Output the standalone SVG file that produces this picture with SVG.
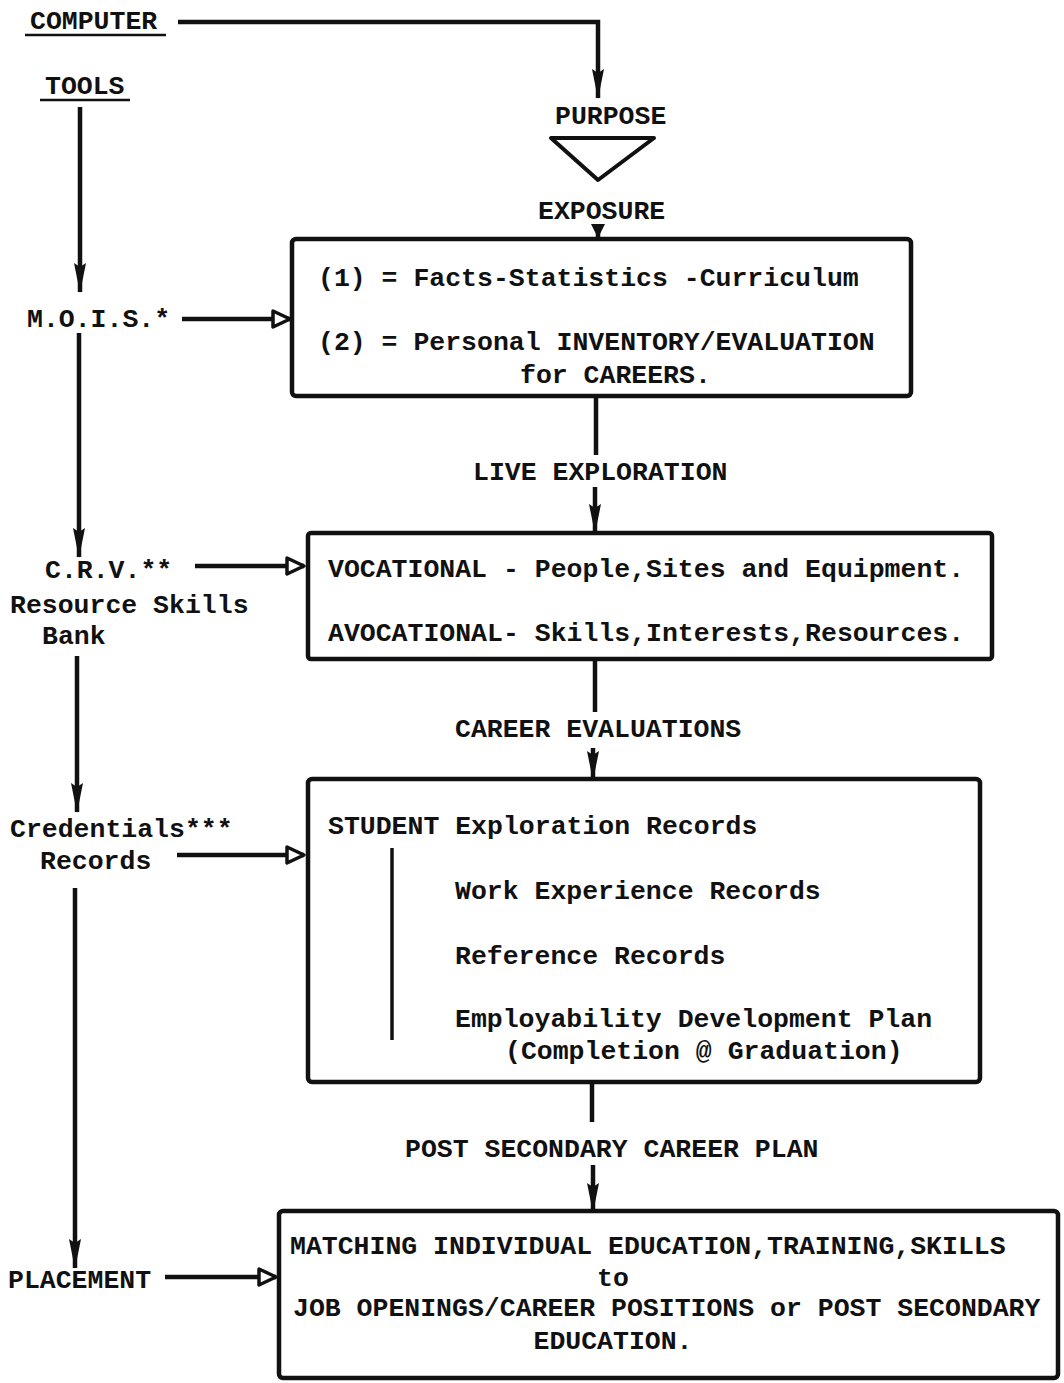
<svg xmlns="http://www.w3.org/2000/svg" width="1064" height="1383" viewBox="0 0 1064 1383">
<style>
text{font-family:"Liberation Mono","Courier New",monospace;font-size:26.5px;font-weight:bold;fill:#111}
.box{fill:none;stroke:#111;stroke-width:4.5}
.ln{fill:none;stroke:#111;stroke-width:4.5}
.mid{text-anchor:middle}
</style>
<defs>
<marker id="arrV" markerUnits="userSpaceOnUse" viewBox="0 0 30 14" markerWidth="30" markerHeight="14" refX="29" refY="7" orient="auto">
<path d="M0,1 L30,7 L0,13 L4,7 Z" fill="#111"/>
</marker>
<marker id="arrS" markerUnits="userSpaceOnUse" viewBox="0 0 14 14" markerWidth="14" markerHeight="14" refX="13" refY="7" orient="auto">
<path d="M0,0 L14,7 L0,14 Z" fill="#111"/>
</marker>
<marker id="arrH" markerUnits="userSpaceOnUse" viewBox="0 0 22 22" markerWidth="22" markerHeight="22" refX="19" refY="11" orient="auto">
<path d="M2,3 L19,11 L2,19 Z" fill="#fff" stroke="#111" stroke-width="3.5" stroke-linejoin="round"/>
</marker>
</defs>
<rect width="1064" height="1383" fill="#fff"/>

<g id="connectors">
<path class="ln" d="M178,22 H598 V98" marker-end="url(#arrV)"/>
<path class="ln" d="M80,107 V292" marker-end="url(#arrV)"/>
<path class="ln" d="M79,333 V557" marker-end="url(#arrV)"/>
<path class="ln" d="M77,656 V812" marker-end="url(#arrV)"/>
<path class="ln" d="M75,888 V1268" marker-end="url(#arrV)"/>
<path class="ln" d="M182,319 H290" marker-end="url(#arrH)"/>
<path class="ln" d="M195,566 H304" marker-end="url(#arrH)"/>
<path class="ln" d="M177,855 H304" marker-end="url(#arrH)"/>
<path class="ln" d="M165,1277 H276" marker-end="url(#arrH)"/>
<path class="ln" d="M598,225 V237" marker-end="url(#arrS)"/>
<path class="ln" d="M596,397 V455"/>
<path class="ln" d="M595,487 V533" marker-end="url(#arrV)"/>
<path class="ln" d="M595,660 V712"/>
<path class="ln" d="M593,748 V780" marker-end="url(#arrV)"/>
<path class="ln" d="M592,1082 V1122"/>
<path class="ln" d="M593,1165 V1212" marker-end="url(#arrV)"/>
</g>

<g id="computer">
<text x="30" y="29">COMPUTER</text>
<line x1="25" y1="35" x2="166" y2="35" stroke="#111" stroke-width="2.5"/>
</g>
<g id="tools">
<text x="45" y="94">TOOLS</text>
<line x1="40" y1="100" x2="130" y2="100" stroke="#111" stroke-width="2.5"/>
</g>
<g id="purpose">
<text x="555" y="124">PURPOSE</text>
<polygon points="551,138 654,138 598,180" fill="none" stroke="#111" stroke-width="4" stroke-linejoin="round"/>
</g>
<g id="exposure">
<text x="538" y="219">EXPOSURE</text>
</g>
<g id="mois"><text x="27" y="327">M.O.I.S.*</text></g>
<g id="crv">
<text x="45" y="578">C.R.V.**</text>
<text x="10" y="613">Resource Skills</text>
<text x="42" y="644">Bank</text>
</g>
<g id="credentials">
<text x="10" y="837">Credentials***</text>
<text x="40" y="869">Records</text>
</g>
<g id="placement"><text x="8" y="1288">PLACEMENT</text></g>

<g id="box1">
<rect class="box" x="292" y="239" width="619" height="157" rx="4"/>
<text x="318" y="286">(1) = Facts-Statistics -Curriculum</text>
<text x="318" y="350">(2) = Personal INVENTORY/EVALUATION</text>
<text x="520" y="383">for CAREERS.</text>
</g>
<g id="live"><text x="473" y="480">LIVE EXPLORATION</text></g>
<g id="box2">
<rect class="box" x="308" y="533" width="684" height="126" rx="3"/>
<text x="328" y="577">VOCATIONAL - People,Sites and Equipment.</text>
<text x="328" y="641">AVOCATIONAL- Skills,Interests,Resources.</text>
</g>
<g id="careereval"><text x="455" y="737">CAREER EVALUATIONS</text></g>
<g id="box3">
<rect class="box" x="308" y="779" width="672" height="303" rx="4"/>
<text x="328" y="834">STUDENT Exploration Records</text>
<line x1="392" y1="848" x2="392" y2="1040" stroke="#111" stroke-width="3.5"/>
<text x="455" y="899">Work Experience Records</text>
<text x="455" y="964">Reference Records</text>
<text x="455" y="1027">Employability Development Plan</text>
<text x="505" y="1059">(Completion @ Graduation)</text>
</g>
<g id="postsec"><text x="405" y="1157">POST SECONDARY CAREER PLAN</text></g>
<g id="box4">
<rect class="box" x="279" y="1211" width="779" height="167" rx="4"/>
<text x="290" y="1254">MATCHING INDIVIDUAL EDUCATION,TRAINING,SKILLS</text>
<text x="613" y="1286" class="mid">to</text>
<text x="293" y="1316">JOB OPENINGS/CAREER POSITIONS or POST SECONDARY</text>
<text x="613" y="1349" class="mid">EDUCATION.</text>
</g>
</svg>
